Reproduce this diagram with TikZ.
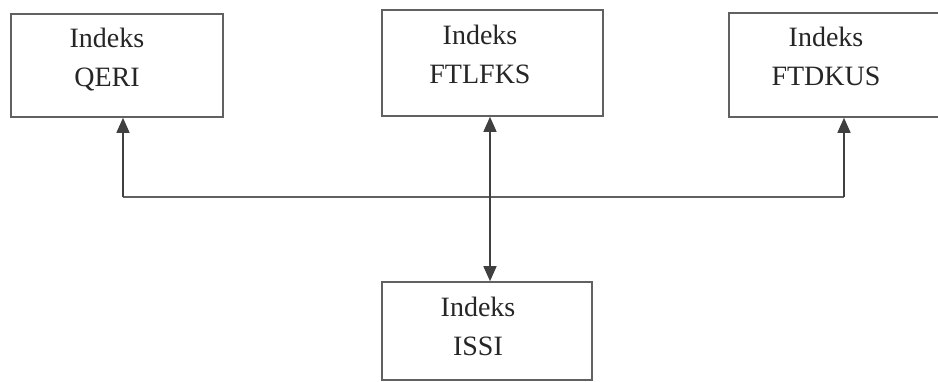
\documentclass[tikz,border=0pt]{standalone}
\usepackage{fontspec}
\setmainfont{Liberation Serif}
\usetikzlibrary{arrows.meta}
\begin{document}
\begin{tikzpicture}[x=1pt,y=-1pt,
  boxstyle/.style={draw=black!62,line width=1.6pt,rectangle,inner sep=0pt},
  labelstyle/.style={inner sep=0pt,anchor=north,align=center,text=black!85,
    font=\fontsize{28}{39}\selectfont},
  linkstyle/.style={draw=black!62,line width=1.5pt},
  arrowstyle/.style={draw=black!75,line width=1.4pt,
    -{Triangle[length=15pt,width=13pt]}},
  darrowstyle/.style={draw=black!75,line width=1.4pt,
    {Triangle[length=15pt,width=13pt]}-{Triangle[length=15pt,width=13pt]}}]
\useasboundingbox (0,0) rectangle (938,381);
\fill[white] (0,0) rectangle (938,381);
\clip (0,0) rectangle (938,381);
% boxes
\node[boxstyle,minimum width=212pt,minimum height=103pt] (q) at (117,65.5) {};
\node[boxstyle,minimum width=221pt,minimum height=106pt] (f) at (492.5,63) {};
\node[boxstyle,minimum width=216pt,minimum height=104pt] (d) at (837,65) {};
\node[boxstyle,minimum width=210pt,minimum height=98pt] (i) at (487,331) {};
% labels
\node[labelstyle] (qt) at (107,28) {Indeks\\QERI};
\node[labelstyle] (ft) at (480,25) {Indeks\\FTLFKS};
\node[labelstyle] (dt) at (826,27) {Indeks\\FTDKUS};
\node[labelstyle] (it) at (478,297) {Indeks\\ISSI};
% connectors
\coordinate (j1) at (123,197);
\coordinate (j2) at (844,197);
\coordinate (m) at (490,0);
\draw[linkstyle] (j1) -- (j2);
\draw[arrowstyle] (j1) -- (j1 |- q.south);
\draw[arrowstyle] (j2) -- (j2 |- d.south);
\draw[darrowstyle] (m |- f.south) -- (m |- i.north);
\end{tikzpicture}
\end{document}
